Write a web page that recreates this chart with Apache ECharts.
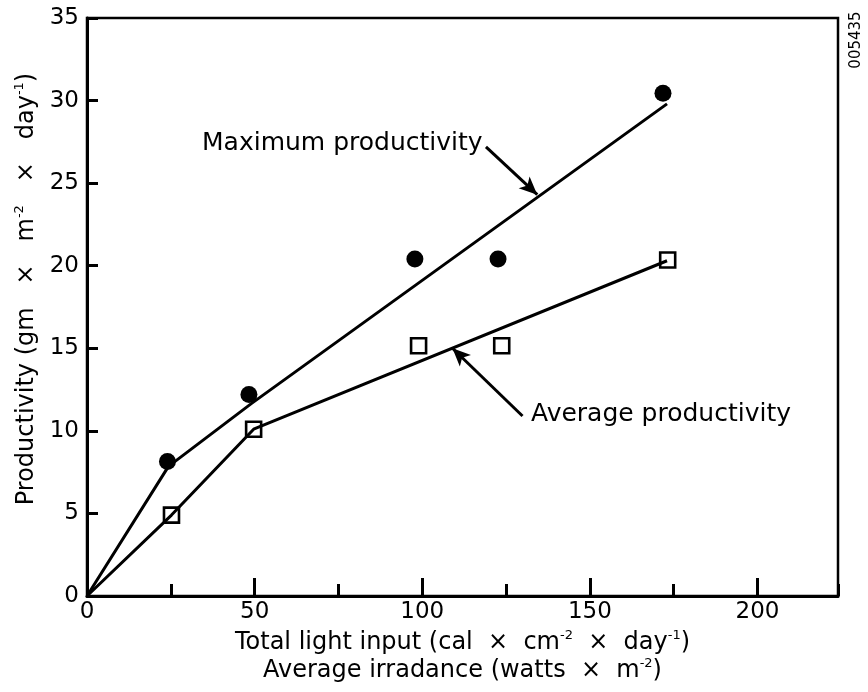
<!DOCTYPE html>
<html><head><meta charset="utf-8">
<script src="https://cdn.jsdelivr.net/npm/echarts@6/dist/echarts.min.js"></script>
<style>html,body{margin:0;padding:0;background:#fff}#c{width:868px;height:692px}</style>
</head><body><div id="c"></div>
<script>
// Measured points
const maxX = [24, 48.3, 97.8, 122.6, 171.8];
const maxY = [8.15, 12.2, 20.4, 20.4, 30.45];
const avgX = [25.2, 49.7, 98.9, 123.7, 173.2];
const avgY = [4.9, 10.1, 15.15, 15.15, 20.35];
// Fitted lines
const maxLineX = [0, 24.3, 49, 173];
const maxLineY = [0, 7.85, 11.65, 29.8];
const avgLineX = [0, 25.2, 49.7, 173];
const avgLineY = [0, 4.9, 10.1, 20.3];
// Annotation arrows [tail, tip]
const maxArrow = [[119, 27.2], [134.3, 24.3]];
const avgArrow = [[129.9, 10.9], [109, 15.0]];
// Axis
const xMin = 0, xMax = 224, xMajor = 50, xMinor = 25;
const yMin = 0, yMax = 35, yStep = 5;

const FONT = 'DejaVu Sans';
const zip = (a, b) => a.map((v, i) => [v, b[i]]);

const chart = echarts.init(document.getElementById('c'), null, {renderer: 'canvas'});
const axisLineStyle = {color: '#000', width: 3};
const richName = (fs) => ({
  a: {fontSize: fs, lineHeight: 28, fontFamily: FONT, color: '#000'},
  s: {fontSize: 13, lineHeight: 12, verticalAlign: 'top', fontFamily: FONT, color: '#000'}
});
chart.setOption({
  backgroundColor: '#fff',
  animation: false,
  grid: {left: 87, right: 30, top: 18, bottom: 96, show: true, borderColor: '#000', borderWidth: 2.5, containLabel: false},
  xAxis: [{
    type: 'value', min: xMin, max: xMax, interval: xMajor, position: 'bottom',
    axisLine: {show: true, lineStyle: axisLineStyle},
    axisTick: {show: true, inside: true, length: 18, lineStyle: {color: '#000', width: 3}},
    axisLabel: {color: '#000', fontSize: 23, fontFamily: FONT, margin: 5, showMaxLabel: false},
    splitLine: {show: false},
    name: '{a|Total light input (cal  ×  cm}{s|-2}{a|  ×  day}{s|-1}{a|)}\n{a|Average irradance (watts  ×  m}{s|-2}{a|)}',
    nameLocation: 'middle', nameGap: 30,
    nameTextStyle: {color: '#000', fontFamily: FONT, fontSize: 24, lineHeight: 28, rich: richName(24)}
  }, {
    type: 'value', min: xMin, max: xMax, interval: xMinor, position: 'bottom', gridIndex: 0,
    axisLine: {show: false},
    axisTick: {show: true, inside: true, length: 12, lineStyle: {color: '#000', width: 3}},
    axisLabel: {show: false}, splitLine: {show: false}
  }],
  yAxis: {
    type: 'value', min: yMin, max: yMax, interval: yStep,
    axisLine: {show: true, lineStyle: axisLineStyle},
    axisTick: {show: true, inside: true, length: 11, lineStyle: {color: '#000', width: 3}},
    axisLabel: {color: '#000', fontSize: 23, fontFamily: FONT, margin: 8},
    splitLine: {show: false},
    name: '{a|Productivity (gm   ×   m}{s|-2}{a|   ×   day}{s|-1}{a|)}',
    nameLocation: 'middle', nameRotate: 90, nameGap: 44,
    nameTextStyle: {color: '#000', fontFamily: FONT, fontSize: 24, padding: [0, 0, 0, 36], rich: richName(24)}
  },
  series: [
    {name: 'Maximum line', type: 'line', data: zip(maxLineX, maxLineY), symbol: 'none',
     lineStyle: {color: '#000', width: 3}, z: 2,
     markLine: {silent: true, symbol: ['none', 'arrow'], symbolSize: [12, 18], label: {show: false},
       lineStyle: {color: '#000', width: 3, type: 'solid'},
       data: [[{coord: maxArrow[0]}, {coord: maxArrow[1]}]]}},
    {name: 'Average line', type: 'line', data: zip(avgLineX, avgLineY), symbol: 'none',
     lineStyle: {color: '#000', width: 3}, z: 2,
     markLine: {silent: true, symbol: ['none', 'arrow'], symbolSize: [12, 18], label: {show: false},
       lineStyle: {color: '#000', width: 3, type: 'solid'},
       data: [[{coord: avgArrow[0]}, {coord: avgArrow[1]}]]}},
    {name: 'Maximum productivity', type: 'scatter', data: zip(maxX, maxY), symbol: 'circle', symbolSize: 17,
     itemStyle: {color: '#000', opacity: 1}, z: 3},
    {name: 'Average productivity', type: 'scatter', data: zip(avgX, avgY), symbol: 'rect', symbolSize: 15,
     itemStyle: {color: 'rgba(0,0,0,0)', borderColor: '#000', borderWidth: 2.6, opacity: 1}, z: 3}
  ],
  graphic: [
    {type: 'text', left: 202, top: 131, style: {text: 'Maximum productivity', font: '25px "DejaVu Sans"', fill: '#000'}},
    {type: 'text', left: 531, top: 402, style: {text: 'Average productivity', font: '25px "DejaVu Sans"', fill: '#000'}},
    {type: 'text', x: 856, y: 40, rotation: Math.PI / 2, style: {text: '005435', font: '15px "DejaVu Sans"', fill: '#000', align: 'center', verticalAlign: 'middle'}}
  ]
});
</script></body></html>
